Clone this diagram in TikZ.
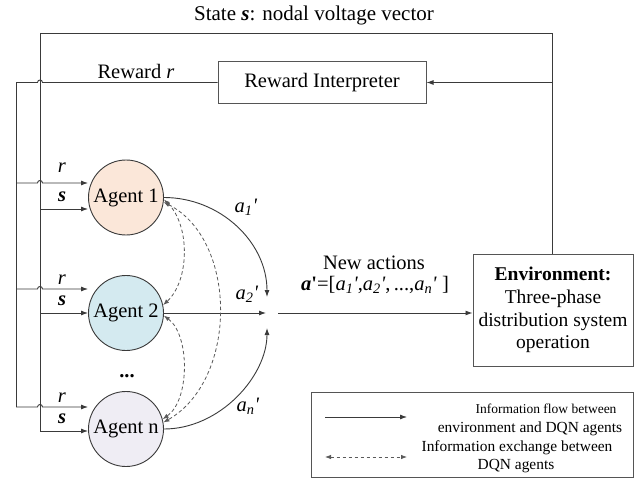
\documentclass[tikz,border=0pt]{standalone}
\usepackage{fontspec}
\setmainfont{Liberation Serif}
\usetikzlibrary{arrows.meta,calc}
\definecolor{ln}{HTML}{3A3A3A}
\definecolor{bx}{HTML}{555555}
\definecolor{dsh}{HTML}{5A5A5A}
\definecolor{agone}{HTML}{FBE7D9}
\definecolor{agtwo}{HTML}{D4EAF0}
\definecolor{agn}{HTML}{EFEDF4}
\newcommand{\pq}{\textit{\textquotesingle}}
\begin{document}
\begin{tikzpicture}[x=1pt,y=-1pt,
  line/.style={draw=ln, line width=0.9pt},
  arr/.style={line, -{Latex[length=7pt,width=5pt]}},
  darr/.style={draw=dsh, line width=0.8pt, dash pattern=on 3.5pt off 2.5pt,
     {Latex[length=6pt,width=4.5pt]}-{Latex[length=6pt,width=4.5pt]}},
  agent/.style={circle, draw=ln, line width=0.9pt, minimum size=75pt, inner sep=0pt,
     font=\fontsize{20.5}{23}\selectfont},
  box/.style={draw=bx, line width=1pt, inner sep=0pt},
  lbl/.style={inner sep=1pt, font=\fontsize{20.5}{23}\selectfont},
  lgd/.style={inner sep=0pt, font=\fontsize{15.4}{18}\selectfont}]
\useasboundingbox (0,0) rectangle (642,481);

% title
\node[lbl, font=\fontsize{21}{24}\selectfont] (title) at (314,15) {State \textbf{\textit{s}}: nodal voltage vector};

% boxes
\node[box, minimum width=208pt, minimum height=42pt, font=\fontsize{20.5}{23}\selectfont] (RI) at (322,82.5) {Reward Interpreter};
\node[box, minimum width=160pt, minimum height=112pt, align=center,
      font=\fontsize{19.5}{22.7}\selectfont] (ENV) at (553,310)
  {\textbf{Environment:}\\Three-phase\\distribution system\\operation};

% agents
\node[agent, fill=agone] (A1) at (126,197.5) {Agent 1};
\node[agent, fill=agtwo] (A2) at (126,313) {Agent 2};
\node[agent, fill=agn] (An) at (126,429) {Agent n};
\node[lbl] (dots) at (127,376) {\textbf{...}};

% coordinates
\coordinate (tl) at (40,33);
\coordinate (tr) at (552,33);
\coordinate (rj) at (552,82.5);
\coordinate (rl) at (16,82.5);
\coordinate (r1) at (16,183);
\coordinate (s1) at (40,209);
\coordinate (r2) at (16,289);
\coordinate (s2) at (40,313);
\coordinate (rn) at (16,407);
\coordinate (sn) at (40,431);
\coordinate (J) at (267,313);
\coordinate (m) at (278,313);

% feedback lines
\draw[line] (tl) -- (tr) -- (tr |- ENV.north);
\draw[arr] (rj) -- (RI.east);
\draw[line] (RI.west) -- (42.5,82.5) .. controls (42.5,79.2) and (37.5,79.2) .. (37.5,82.5) -- (rl);
\draw[line] (rl) -- (rn);
\draw[line] (tl) -- (sn);
\node[lbl] (rewl) at (136,71) {Reward \textit{r}};

% inputs to agents
\draw[arr] (r1) -- (37.5,183) .. controls (37.5,179.7) and (42.5,179.7) .. (42.5,183) -- (A1.west |- r1);
\draw[arr] (s1) -- (A1.west |- s1);
\draw[arr] (r2) -- (37.5,289) .. controls (37.5,285.7) and (42.5,285.7) .. (42.5,289) -- (A2.west |- r2);
\draw[arr] (s2) -- (A2.west |- s2);
\draw[arr] (rn) -- (37.5,407) .. controls (37.5,403.7) and (42.5,403.7) .. (42.5,407) -- (An.west |- rn);
\draw[arr] (sn) -- (An.west |- sn);

\node[lbl] (lr1) at (62,168) {\textit{r}};
\node[lbl] (ls1) at (62,197) {\textbf{\textit{s}}};
\node[lbl] (lr2) at (62,280) {\textit{r}};
\node[lbl] (ls2) at (62,301) {\textbf{\textit{s}}};
\node[lbl] (lrn) at (62,398) {\textit{r}};
\node[lbl] (lsn) at (62,419) {\textbf{\textit{s}}};

% actions
\draw[arr] (A1.east) .. controls (220,197.5) and (267,242) .. ($(J)+(0,-16)$);
\draw[arr] (A2.east) -- ($(J)+(-1,0)$);
\draw[arr] (An.east) .. controls (220,429) and (267,376) .. ($(J)+(0,15)$);
\draw[arr] (m) -- (m -| ENV.west);

\node[lbl] (la1) at (246,207) {\textit{a}\textsubscript{\textit{1}}\pq};
\node[lbl] (la2) at (247,294) {\textit{a}\textsubscript{\textit{2}}\pq};
\node[lbl] (lan) at (248,406) {\textit{a}\textsubscript{\textit{n}}\pq};

\node[lbl] (na) at (374,263) {New actions};
\node[lbl] (vec) at (375,285) {\textbf{\textit{a}\textquotesingle}=[\textit{a}\textsubscript{\textit{1}}\pq,\textit{a}\textsubscript{\textit{2}}\pq,\,...,\textit{a}\textsubscript{\textit{n}}\pq\ ]};

% information exchange
\draw[darr] (A1.-3) .. controls (190,225) and (190,280) .. (A2.12);
\draw[darr] (A1.-7) .. controls (238,240) and (238,380) .. (An.10);
\draw[darr] (A2.-4) .. controls (190,335) and (190,400) .. (An.15);

% legend
\node[box, minimum width=322pt, minimum height=85pt] (LG) at (472,434.5) {};
\coordinate (l1a) at (325,417);
\coordinate (l1b) at (407,417);
\coordinate (l2a) at (325,457);
\coordinate (l2b) at (407,457);
\draw[arr, line width=0.8pt] (l1a) -- (l1b);
\draw[darr] (l2a) -- (l2b);
\node[lgd, font=\fontsize{13.5}{16}\selectfont] (lt1a) at (546,409) {Information flow between};
\node[lgd] (lt1b) at (530,429) {environment and DQN agents};
\node[lgd] (lt2a) at (517,448) {Information exchange between};
\node[lgd] (lt2b) at (516,466) {DQN agents};
\end{tikzpicture}
\end{document}
